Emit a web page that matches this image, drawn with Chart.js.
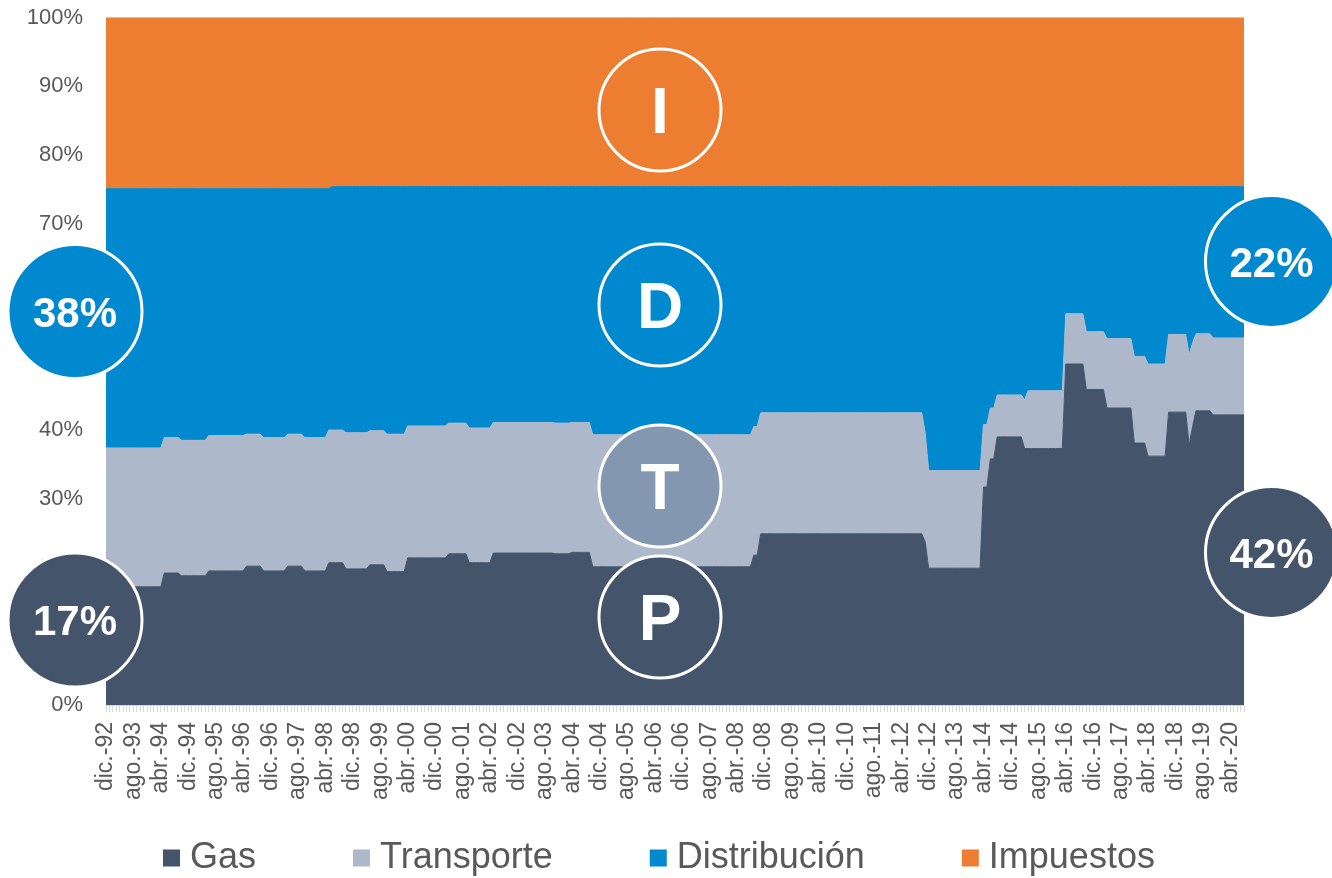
<!DOCTYPE html>
<html lang="es">
<head>
<meta charset="utf-8">
<title>Composición de la tarifa de gas</title>
<script src="https://cdn.jsdelivr.net/npm/chart.js@4.4.1/dist/chart.umd.min.js"></script>
<style>
    html, body { margin: 0; padding: 0; background: #ffffff; }
    .chart-wrap { position: relative; width: 1332px; height: 878px; }
</style>
</head>
<body>
<div class="chart-wrap"><canvas id="tarifaChart"></canvas></div>
<script>
// Participación mensual de cada componente en la tarifa (%), desde dic.-92 hasta ago.-20

const gas = [
    17.2, // dic-92
    17.2, 17.2, 17.2, 17.2, 17.2, 17.2, 17.2, 17.2, 17.2, 17.2, 17.2, 17.2, // 1993
    17.2, 17.2, 17.2, 17.2, 19.2, 19.2, 19.2, 19.2, 19.2, 18.8, 18.8, 18.8, // 1994
    18.8, 18.8, 18.8, 18.8, 18.8, 19.5, 19.5, 19.5, 19.5, 19.5, 19.5, 19.5, // 1995
    19.5, 19.5, 19.5, 19.5, 20.2, 20.2, 20.2, 20.2, 20.2, 19.5, 19.5, 19.5, // 1996
    19.5, 19.5, 19.5, 19.5, 20.2, 20.2, 20.2, 20.2, 20.2, 19.5, 19.5, 19.5, // 1997
    19.5, 19.5, 19.5, 19.5, 20.7, 20.7, 20.7, 20.7, 20.7, 19.8, 19.8, 19.8, // 1998
    19.8, 19.8, 19.8, 19.8, 20.4, 20.4, 20.4, 20.4, 20.4, 19.4, 19.4, 19.4, // 1999
    19.4, 19.4, 19.4, 21.4, 21.4, 21.4, 21.4, 21.4, 21.4, 21.4, 21.4, 21.4, // 2000
    21.4, 21.4, 21.4, 22.0, 22.0, 22.0, 22.0, 22.0, 22.0, 20.7, 20.7, 20.7, // 2001
    20.7, 20.7, 20.7, 20.7, 22.1, 22.1, 22.1, 22.1, 22.1, 22.1, 22.1, 22.1, // 2002
    22.1, 22.1, 22.1, 22.1, 22.1, 22.1, 22.1, 22.1, 22.1, 22.1, 22.0, 22.0, // 2003
    22.0, 22.0, 22.0, 22.2, 22.2, 22.2, 22.2, 22.2, 22.2, 20.1, 20.1, 20.1, // 2004
    20.1, 20.1, 20.1, 20.1, 20.1, 20.1, 20.1, 20.1, 20.1, 20.1, 20.1, 20.1, // 2005
    20.1, 20.1, 20.1, 20.1, 20.1, 20.1, 20.1, 20.1, 20.1, 20.1, 20.1, 20.1, // 2006
    20.1, 20.1, 20.1, 20.1, 20.1, 20.1, 20.1, 20.1, 20.1, 20.1, 20.1, 20.1, // 2007
    20.1, 20.1, 20.1, 20.1, 20.1, 20.1, 20.1, 20.1, 21.8, 21.8, 24.9, 24.9, // 2008
    24.9, 24.9, 24.9, 24.9, 24.9, 24.9, 24.9, 24.9, 24.9, 24.9, 24.9, 24.9, // 2009
    24.9, 24.9, 24.9, 24.9, 24.9, 24.9, 24.9, 24.9, 24.9, 24.9, 24.9, 24.9, // 2010
    24.9, 24.9, 24.9, 24.9, 24.9, 24.9, 24.9, 24.9, 24.9, 24.9, 24.9, 24.9, // 2011
    24.9, 24.9, 24.9, 24.9, 24.9, 24.9, 24.9, 24.9, 24.9, 24.9, 23.7, 19.9, // 2012
    19.9, 19.9, 19.9, 19.9, 19.9, 19.9, 19.9, 19.9, 19.9, 19.9, 19.9, 19.9, // 2013
    19.9, 19.9, 19.9, 31.7, 31.7, 35.8, 35.8, 39.0, 39.0, 39.0, 39.0, 39.0, // 2014
    39.0, 39.0, 39.0, 37.3, 37.3, 37.3, 37.3, 37.3, 37.3, 37.3, 37.3, 37.3, // 2015
    37.3, 37.3, 37.3, 49.6, 49.6, 49.6, 49.6, 49.6, 49.6, 45.9, 45.9, 45.9, // 2016
    45.9, 45.9, 45.9, 43.2, 43.2, 43.2, 43.2, 43.2, 43.2, 43.2, 43.2, 38.1, // 2017
    38.1, 38.1, 38.1, 36.2, 36.2, 36.2, 36.2, 36.2, 36.2, 42.6, 42.6, 42.6, // 2018
    42.6, 42.6, 42.6, 37.8, 40.5, 42.8, 42.8, 42.8, 42.8, 42.8, 42.2, 42.2, // 2019
    42.2, 42.2, 42.2, 42.2, 42.2, 42.2, 42.2, 42.2                          // 2020
];

const transporte = [
    20.2, // dic-92
    20.2, 20.2, 20.2, 20.2, 20.2, 20.2, 20.2, 20.2, 20.2, 20.2, 20.2, 20.2, // 1993
    20.2, 20.2, 20.2, 20.2, 19.7, 19.7, 19.7, 19.7, 19.7, 19.7, 19.7, 19.7, // 1994
    19.7, 19.7, 19.7, 19.7, 19.7, 19.7, 19.7, 19.7, 19.7, 19.7, 19.7, 19.7, // 1995
    19.7, 19.7, 19.7, 19.7, 19.2, 19.2, 19.2, 19.2, 19.2, 19.4, 19.4, 19.4, // 1996
    19.4, 19.4, 19.4, 19.4, 19.2, 19.2, 19.2, 19.2, 19.2, 19.4, 19.4, 19.4, // 1997
    19.4, 19.4, 19.4, 19.4, 19.3, 19.3, 19.3, 19.3, 19.3, 19.8, 19.8, 19.8, // 1998
    19.8, 19.8, 19.8, 19.8, 19.5, 19.5, 19.5, 19.5, 19.5, 20.0, 20.0, 20.0, // 1999
    20.0, 20.0, 20.0, 19.2, 19.2, 19.2, 19.2, 19.2, 19.2, 19.2, 19.2, 19.2, // 2000
    19.2, 19.2, 19.2, 19.0, 19.0, 19.0, 19.0, 19.0, 19.0, 19.6, 19.6, 19.6, // 2001
    19.6, 19.6, 19.6, 19.6, 19.0, 19.0, 19.0, 19.0, 19.0, 19.0, 19.0, 19.0, // 2002
    19.0, 19.0, 19.0, 19.0, 19.0, 19.0, 19.0, 19.0, 19.0, 19.0, 19.0, 19.0, // 2003
    19.0, 19.0, 19.0, 18.9, 18.9, 18.9, 18.9, 18.9, 18.9, 19.2, 19.2, 19.2, // 2004
    19.2, 19.2, 19.2, 19.2, 19.2, 19.2, 19.2, 19.2, 19.2, 19.2, 19.2, 19.2, // 2005
    19.2, 19.2, 19.2, 19.2, 19.2, 19.2, 19.2, 19.2, 19.2, 19.2, 19.2, 19.2, // 2006
    19.2, 19.2, 19.2, 19.2, 19.2, 19.2, 19.2, 19.2, 19.2, 19.2, 19.2, 19.2, // 2007
    19.2, 19.2, 19.2, 19.2, 19.2, 19.2, 19.2, 19.2, 18.7, 18.7, 17.6, 17.6, // 2008
    17.6, 17.6, 17.6, 17.6, 17.6, 17.6, 17.6, 17.6, 17.6, 17.6, 17.6, 17.6, // 2009
    17.6, 17.6, 17.6, 17.6, 17.6, 17.6, 17.6, 17.6, 17.6, 17.6, 17.6, 17.6, // 2010
    17.6, 17.6, 17.6, 17.6, 17.6, 17.6, 17.6, 17.6, 17.6, 17.6, 17.6, 17.6, // 2011
    17.6, 17.6, 17.6, 17.6, 17.6, 17.6, 17.6, 17.6, 17.6, 17.6, 15.8, 14.2, // 2012
    14.2, 14.2, 14.2, 14.2, 14.2, 14.2, 14.2, 14.2, 14.2, 14.2, 14.2, 14.2, // 2013
    14.2, 14.2, 14.2, 9.1, 9.1, 7.4, 7.4, 6.1, 6.1, 6.1, 6.1, 6.1,          // 2014
    6.1, 6.1, 6.1, 7.1, 8.4, 8.4, 8.4, 8.4, 8.4, 8.4, 8.4, 8.4,             // 2015
    8.4, 8.4, 8.4, 7.3, 7.3, 7.3, 7.3, 7.3, 7.3, 8.4, 8.4, 8.4,             // 2016
    8.4, 8.4, 8.4, 10.1, 10.1, 10.1, 10.1, 10.1, 10.1, 10.1, 10.1, 12.6,    // 2017
    12.6, 12.6, 12.6, 13.4, 13.4, 13.4, 13.4, 13.4, 13.4, 11.3, 11.3, 11.3, // 2018
    11.3, 11.3, 11.3, 13.1, 12.2, 11.2, 11.2, 11.2, 11.2, 11.2, 11.2, 11.2, // 2019
    11.2, 11.2, 11.2, 11.2, 11.2, 11.2, 11.2, 11.2                          // 2020
];

const distribucion = [
    37.7, // dic-92
    37.7, 37.7, 37.7, 37.7, 37.7, 37.7, 37.7, 37.7, 37.7, 37.7, 37.7, 37.7, // 1993
    37.7, 37.7, 37.7, 37.7, 36.2, 36.2, 36.2, 36.2, 36.2, 36.6, 36.6, 36.6, // 1994
    36.6, 36.6, 36.6, 36.6, 36.6, 35.9, 35.9, 35.9, 35.9, 35.9, 35.9, 35.9, // 1995
    35.9, 35.9, 35.9, 35.9, 35.7, 35.7, 35.7, 35.7, 35.7, 36.2, 36.2, 36.2, // 1996
    36.2, 36.2, 36.2, 36.2, 35.7, 35.7, 35.7, 35.7, 35.7, 36.2, 36.2, 36.2, // 1997
    36.2, 36.2, 36.2, 36.2, 35.1, 35.4, 35.4, 35.4, 35.4, 35.8, 35.8, 35.8, // 1998
    35.8, 35.8, 35.8, 35.8, 35.5, 35.5, 35.5, 35.5, 35.5, 36.0, 36.0, 36.0, // 1999
    36.0, 36.0, 36.0, 34.8, 34.8, 34.8, 34.8, 34.8, 34.8, 34.8, 34.8, 34.8, // 2000
    34.8, 34.8, 34.8, 34.4, 34.4, 34.4, 34.4, 34.4, 34.4, 35.1, 35.1, 35.1, // 2001
    35.1, 35.1, 35.1, 35.1, 34.3, 34.3, 34.3, 34.3, 34.3, 34.3, 34.3, 34.3, // 2002
    34.3, 34.3, 34.3, 34.3, 34.3, 34.3, 34.3, 34.3, 34.3, 34.3, 34.4, 34.4, // 2003
    34.4, 34.4, 34.4, 34.3, 34.3, 34.3, 34.3, 34.3, 34.3, 36.1, 36.1, 36.1, // 2004
    36.1, 36.1, 36.1, 36.1, 36.1, 36.1, 36.1, 36.1, 36.1, 36.1, 36.1, 36.1, // 2005
    36.1, 36.1, 36.1, 36.1, 36.1, 36.1, 36.1, 36.1, 36.1, 36.1, 36.1, 36.1, // 2006
    36.1, 36.1, 36.1, 36.1, 36.1, 36.1, 36.1, 36.1, 36.1, 36.1, 36.1, 36.1, // 2007
    36.1, 36.1, 36.1, 36.1, 36.1, 36.1, 36.1, 36.1, 34.9, 34.9, 32.9, 32.9, // 2008
    32.9, 32.9, 32.9, 32.9, 32.9, 32.9, 32.9, 32.9, 32.9, 32.9, 32.9, 32.9, // 2009
    32.9, 32.9, 32.9, 32.9, 32.9, 32.9, 32.9, 32.9, 32.9, 32.9, 32.9, 32.9, // 2010
    32.9, 32.9, 32.9, 32.9, 32.9, 32.9, 32.9, 32.9, 32.9, 32.9, 32.9, 32.9, // 2011
    32.9, 32.9, 32.9, 32.9, 32.9, 32.9, 32.9, 32.9, 32.9, 32.9, 35.9, 41.3, // 2012
    41.3, 41.3, 41.3, 41.3, 41.3, 41.3, 41.3, 41.3, 41.3, 41.3, 41.3, 41.3, // 2013
    41.3, 41.3, 41.3, 34.6, 34.6, 32.2, 32.2, 30.3, 30.3, 30.3, 30.3, 30.3, // 2014
    30.3, 30.3, 30.3, 31.0, 29.7, 29.7, 29.7, 29.7, 29.7, 29.7, 29.7, 29.7, // 2015
    29.7, 29.7, 29.7, 18.5, 18.5, 18.5, 18.5, 18.5, 18.5, 21.1, 21.1, 21.1, // 2016
    21.1, 21.1, 21.1, 22.1, 22.1, 22.1, 22.1, 22.1, 22.1, 22.1, 22.1, 24.7, // 2017
    24.7, 24.7, 24.7, 25.8, 25.8, 25.8, 25.8, 25.8, 25.8, 21.5, 21.5, 21.5, // 2018
    21.5, 21.5, 21.5, 24.5, 22.7, 21.4, 21.4, 21.4, 21.4, 21.4, 22.0, 22.0, // 2019
    22.0, 22.0, 22.0, 22.0, 22.0, 22.0, 22.0, 22.0                          // 2020
];

const impuestos = [
    24.9, // dic-92
    24.9, 24.9, 24.9, 24.9, 24.9, 24.9, 24.9, 24.9, 24.9, 24.9, 24.9, 24.9, // 1993
    24.9, 24.9, 24.9, 24.9, 24.9, 24.9, 24.9, 24.9, 24.9, 24.9, 24.9, 24.9, // 1994
    24.9, 24.9, 24.9, 24.9, 24.9, 24.9, 24.9, 24.9, 24.9, 24.9, 24.9, 24.9, // 1995
    24.9, 24.9, 24.9, 24.9, 24.9, 24.9, 24.9, 24.9, 24.9, 24.9, 24.9, 24.9, // 1996
    24.9, 24.9, 24.9, 24.9, 24.9, 24.9, 24.9, 24.9, 24.9, 24.9, 24.9, 24.9, // 1997
    24.9, 24.9, 24.9, 24.9, 24.9, 24.6, 24.6, 24.6, 24.6, 24.6, 24.6, 24.6, // 1998
    24.6, 24.6, 24.6, 24.6, 24.6, 24.6, 24.6, 24.6, 24.6, 24.6, 24.6, 24.6, // 1999
    24.6, 24.6, 24.6, 24.6, 24.6, 24.6, 24.6, 24.6, 24.6, 24.6, 24.6, 24.6, // 2000
    24.6, 24.6, 24.6, 24.6, 24.6, 24.6, 24.6, 24.6, 24.6, 24.6, 24.6, 24.6, // 2001
    24.6, 24.6, 24.6, 24.6, 24.6, 24.6, 24.6, 24.6, 24.6, 24.6, 24.6, 24.6, // 2002
    24.6, 24.6, 24.6, 24.6, 24.6, 24.6, 24.6, 24.6, 24.6, 24.6, 24.6, 24.6, // 2003
    24.6, 24.6, 24.6, 24.6, 24.6, 24.6, 24.6, 24.6, 24.6, 24.6, 24.6, 24.6, // 2004
    24.6, 24.6, 24.6, 24.6, 24.6, 24.6, 24.6, 24.6, 24.6, 24.6, 24.6, 24.6, // 2005
    24.6, 24.6, 24.6, 24.6, 24.6, 24.6, 24.6, 24.6, 24.6, 24.6, 24.6, 24.6, // 2006
    24.6, 24.6, 24.6, 24.6, 24.6, 24.6, 24.6, 24.6, 24.6, 24.6, 24.6, 24.6, // 2007
    24.6, 24.6, 24.6, 24.6, 24.6, 24.6, 24.6, 24.6, 24.6, 24.6, 24.6, 24.6, // 2008
    24.6, 24.6, 24.6, 24.6, 24.6, 24.6, 24.6, 24.6, 24.6, 24.6, 24.6, 24.6, // 2009
    24.6, 24.6, 24.6, 24.6, 24.6, 24.6, 24.6, 24.6, 24.6, 24.6, 24.6, 24.6, // 2010
    24.6, 24.6, 24.6, 24.6, 24.6, 24.6, 24.6, 24.6, 24.6, 24.6, 24.6, 24.6, // 2011
    24.6, 24.6, 24.6, 24.6, 24.6, 24.6, 24.6, 24.6, 24.6, 24.6, 24.6, 24.6, // 2012
    24.6, 24.6, 24.6, 24.6, 24.6, 24.6, 24.6, 24.6, 24.6, 24.6, 24.6, 24.6, // 2013
    24.6, 24.6, 24.6, 24.6, 24.6, 24.6, 24.6, 24.6, 24.6, 24.6, 24.6, 24.6, // 2014
    24.6, 24.6, 24.6, 24.6, 24.6, 24.6, 24.6, 24.6, 24.6, 24.6, 24.6, 24.6, // 2015
    24.6, 24.6, 24.6, 24.6, 24.6, 24.6, 24.6, 24.6, 24.6, 24.6, 24.6, 24.6, // 2016
    24.6, 24.6, 24.6, 24.6, 24.6, 24.6, 24.6, 24.6, 24.6, 24.6, 24.6, 24.6, // 2017
    24.6, 24.6, 24.6, 24.6, 24.6, 24.6, 24.6, 24.6, 24.6, 24.6, 24.6, 24.6, // 2018
    24.6, 24.6, 24.6, 24.6, 24.6, 24.6, 24.6, 24.6, 24.6, 24.6, 24.6, 24.6, // 2019
    24.6, 24.6, 24.6, 24.6, 24.6, 24.6, 24.6, 24.6                          // 2020
];

// Eje X: un punto por mes, etiqueta visible cada 8 meses
const mesesAbrev = ['ene.', 'feb.', 'mar.', 'abr.', 'may.', 'jun.', 'jul.', 'ago.', 'sep.', 'oct.', 'nov.', 'dic.'];
const primerMes = { year: 1992, month: 11 };
const tickEvery = 8;

const yTicks = [0, 10, 20, 30, 40, 50, 60, 70, 80, 90, 100];

// Círculos de resumen: texto y color
const badges = [
    { text: 'I',   color: '#ED7D31', x: 660,    y: 110,   r: 61, size: 64 },
    { text: 'D',   color: '#0089CF', x: 660,    y: 305,   r: 61, size: 64 },
    { text: 'T',   color: '#8497B0', x: 660,    y: 486,   r: 61, size: 64 },
    { text: 'P',   color: '#44546A', x: 660,    y: 617,   r: 61, size: 64 },
    { text: '38%', color: '#0089CF', x: 75,     y: 311.5, r: 67, size: 42 },
    { text: '17%', color: '#44546A', x: 75,     y: 620,   r: 67, size: 42 },
    { text: '22%', color: '#0089CF', x: 1271.5, y: 261.5, r: 66, size: 42 },
    { text: '42%', color: '#44546A', x: 1271.5, y: 552.5, r: 66, size: 42 }
];

const FONT = "'Liberation Sans', Arial, Helvetica, sans-serif";
const TEXT_GREY = '#595959';

function buildCategories(n) {
    const out = [];
    for (let i = 0; i < n; i++) {
        const m = (primerMes.month + i) % 12;
        const y = primerMes.year + Math.floor((primerMes.month + i) / 12);
        out.push(mesesAbrev[m] + '-' + String(y % 100).padStart(2, '0'));
    }
    return out;
}

const categories = buildCategories(gas.length);

function areaSet(label, data, color, fill) {
    return {
        label,
        data,
        backgroundColor: color,
        borderColor: color,
        borderWidth: 1,
        pointRadius: 0,
        pointHoverRadius: 0,
        tension: 0,
        fill
    };
}

const badgePlugin = {
    id: 'badges',
    afterDraw(chart) {
        const ctx = chart.ctx;
        ctx.save();
        badges.forEach(b => {
            ctx.beginPath();
            ctx.arc(b.x, b.y, b.r, 0, Math.PI * 2);
            ctx.fillStyle = b.color;
            ctx.fill();
            ctx.lineWidth = 3;
            ctx.strokeStyle = '#ffffff';
            ctx.stroke();

            ctx.fillStyle = '#ffffff';
            ctx.font = `bold ${b.size}px ${FONT}`;
            ctx.textAlign = 'center';
            ctx.textBaseline = 'alphabetic';
            ctx.fillText(b.text, b.x, b.y + b.size * 0.358);
        });
        ctx.restore();
    }
};

const legendPlugin = {
    id: 'bottomLegend',
    afterDraw(chart) {
        const ctx = chart.ctx;
        const y = 858;
        let x = 163;
        ctx.save();
        ctx.font = `36px ${FONT}`;
        ctx.textAlign = 'left';
        ctx.textBaseline = 'middle';
        chart.data.datasets.forEach(ds => {
            ctx.fillStyle = ds.backgroundColor;
            ctx.fillRect(x, y - 8.5, 17, 17);
            ctx.fillStyle = TEXT_GREY;
            ctx.fillText(ds.label, x + 27, y);
            x += 27 + ctx.measureText(ds.label).width + 97;
        });
        ctx.restore();
    }
};

new Chart(document.getElementById('tarifaChart'), {
    type: 'line',
    data: {
        labels: categories,
        datasets: [
            areaSet('Gas', gas, '#44546A', 'origin'),
            areaSet('Transporte', transporte, '#ADB9CA', '-1'),
            areaSet('Distribución', distribucion, '#0089CF', '-1'),
            areaSet('Impuestos', impuestos, '#ED7D31', '-1')
        ]
    },
    options: {
        responsive: true,
        maintainAspectRatio: false,
        animation: false,
        layout: { padding: { top: 17.5, right: 88, bottom: 0, left: 0 } },
        plugins: {
            legend: { display: false },
            tooltip: { enabled: false }
        },
        scales: {
            x: {
                offset: false,
                grid: {
                    display: true,
                    drawOnChartArea: false,
                    drawTicks: true,
                    tickLength: 7,
                    color: '#d9d9d9'
                },
                border: { display: true, color: '#d9d9d9' },
                ticks: {
                    autoSkip: false,
                    maxRotation: 90,
                    minRotation: 90,
                    padding: 10,
                    color: TEXT_GREY,
                    font: { family: FONT, size: 23 },
                    callback: function (value, index) {
                        return index % tickEvery === 0 ? this.getLabelForValue(value) : '';
                    }
                },
                afterFit(scale) {
                    scale.height = 173;
                    scale.paddingLeft = 0;
                    scale.paddingRight = 0;
                }
            },
            y: {
                stacked: true,
                min: 0,
                max: 100,
                grid: { display: false, drawTicks: false },
                border: { display: false },
                afterBuildTicks(scale) {
                    scale.ticks = yTicks.map(v => ({ value: v }));
                },
                ticks: {
                    padding: 23,
                    color: TEXT_GREY,
                    font: { family: FONT, size: 22 },
                    callback: v => v + '%'
                },
                afterFit(scale) {
                    scale.width = 106;
                    scale.paddingTop = 0;
                    scale.paddingBottom = 0;
                }
            }
        }
    },
    plugins: [badgePlugin, legendPlugin]
});
</script>
</body>
</html>
